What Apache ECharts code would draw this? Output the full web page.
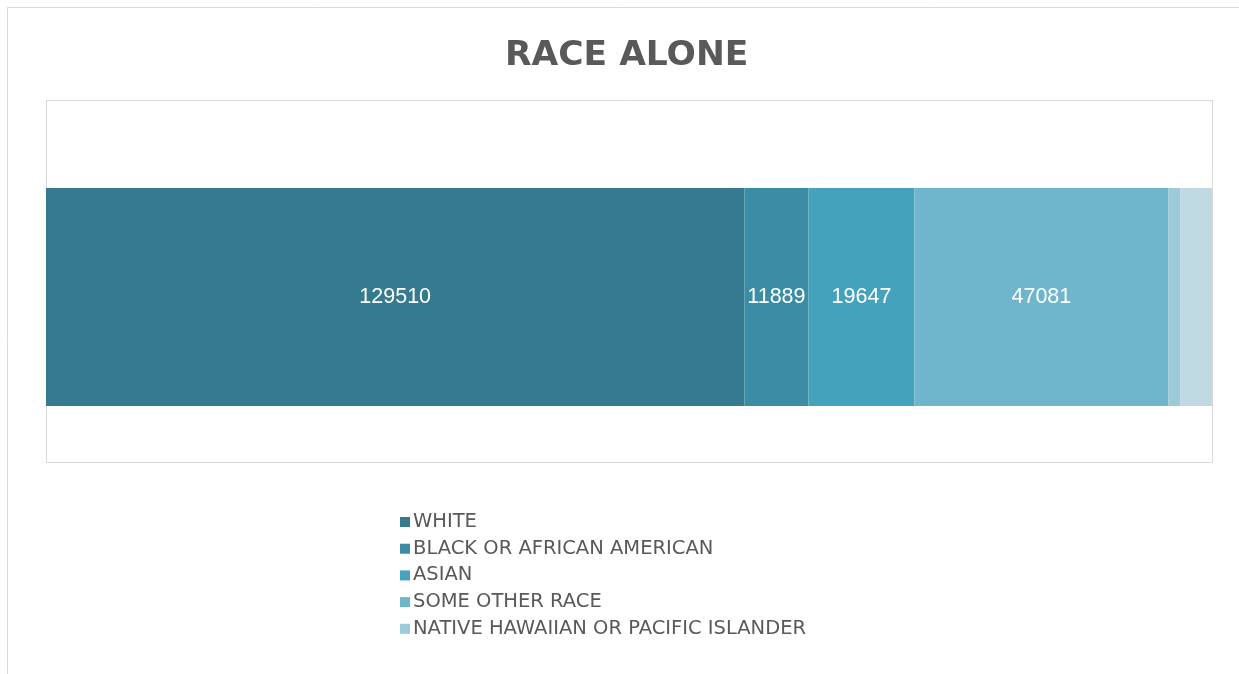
<!DOCTYPE html>
<html><head><meta charset="utf-8">
<script src="https://cdn.jsdelivr.net/npm/echarts@6/dist/echarts.min.js"></script>
<style>html,body{margin:0;padding:0;background:#fff}#c{width:1239px;height:674px}</style>
</head><body><div id="c"></div>
<script>
const categories = ['RACE ALONE'];
const seriesNames = ['WHITE','BLACK OR AFRICAN AMERICAN','ASIAN','SOME OTHER RACE','NATIVE HAWAIIAN OR PACIFIC ISLANDER','OTHER'];
const white = [129510];
const black = [11889];
const asian = [19647];
const someOther = [47081];
const nativeHawaiian = [2200];
const other = [5900];
const legendNames = seriesNames.slice(0,5);
const showLabel = [true,true,true,true,false,false];
const colors = ['#357a8f','#3b8ca5','#45a2bc','#6fb5cb','#9dcad9','#bfd9e2'];
const values = [white, black, asian, someOther, nativeHawaiian, other];
const total = values.reduce((s,v)=>s+v[0],0);

const chart = echarts.init(document.getElementById('c'));
chart.setOption({
  animation:false,
  backgroundColor:'#fff',
  title:{text:'RACE ALONE',left:500,top:34,
    textStyle:{fontFamily:'DejaVu Sans',fontWeight:'bold',fontSize:34.5,color:'#595959'}},
  graphic:[
    {type:'rect',shape:{x:7.5,y:7.5,width:1300,height:700},style:{fill:'none',stroke:'#d9d9d9',lineWidth:1},silent:true,z:-1},
    {type:'rect',shape:{x:46.5,y:100.5,width:1166,height:362},style:{fill:'none',stroke:'#d9d9d9',lineWidth:1},silent:true,z:-1}
  ],
  grid:{left:46,top:188,width:1166,height:218,show:false},
  xAxis:{type:'value',min:0,max:total,show:false},
  yAxis:{type:'category',data:categories,show:false},
  legend:{data:legendNames,orient:'vertical',left:395,top:507,itemWidth:10,itemHeight:10,itemGap:6.7,icon:'rect',
    textStyle:{fontFamily:'DejaVu Sans',fontSize:19.5,color:'#595959',lineHeight:19,padding:[0,0,0,-2]}},
  series: seriesNames.map((n,i)=>({
    name:n,type:'bar',stack:'a',data:values[i],barWidth:218,
    itemStyle:{color:colors[i]},
    label:{show:showLabel[i],position:'inside',color:'#fff',fontFamily:'Liberation Sans',fontSize:21.5}
  }))
});
</script></body></html>
